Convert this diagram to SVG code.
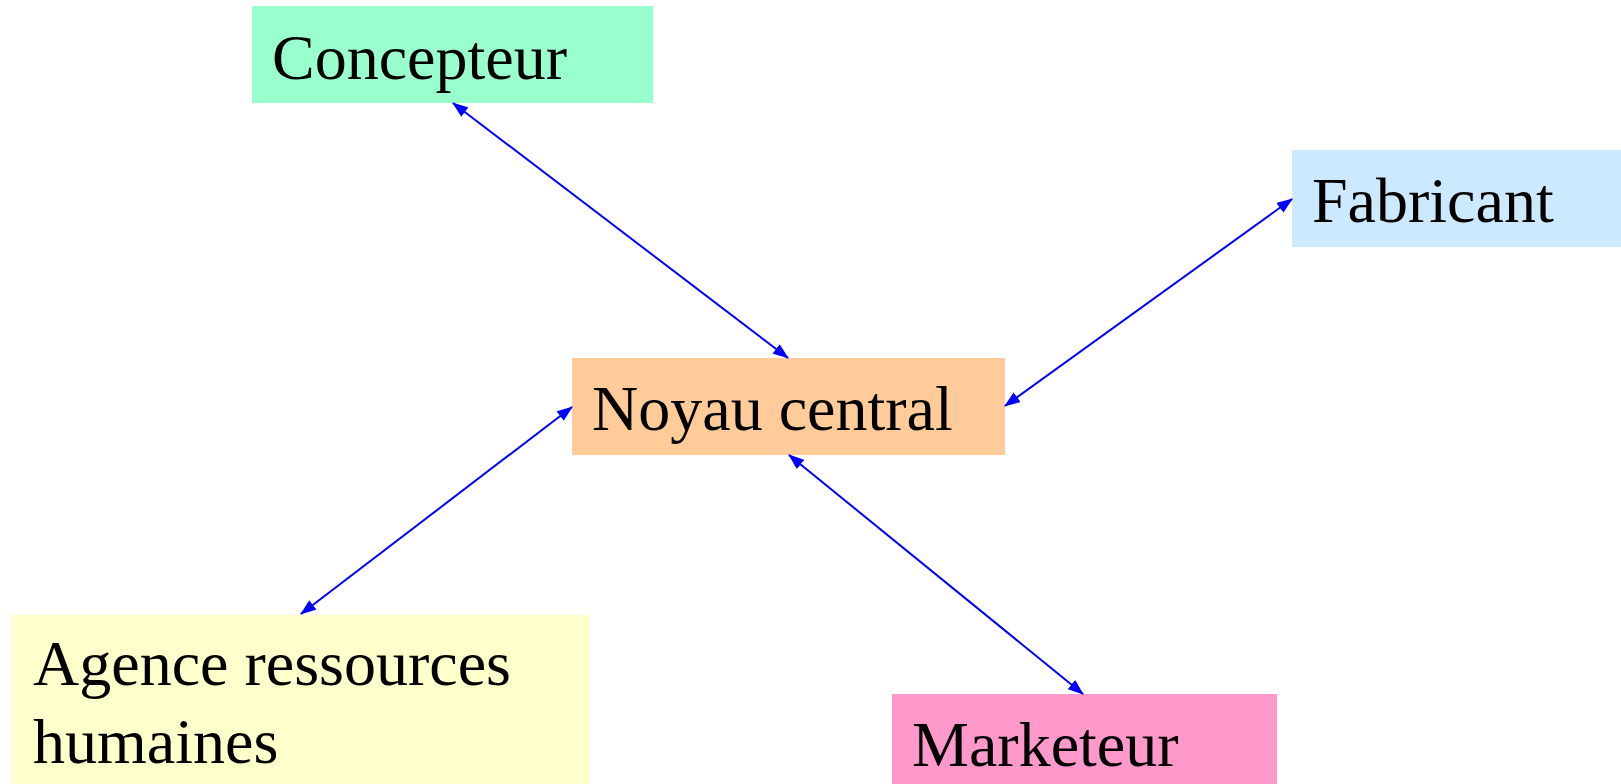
<svg xmlns="http://www.w3.org/2000/svg" width="1621" height="784" viewBox="0 0 1621 784">
  <style>
    .label { font-family: "Liberation Serif", "Times New Roman", serif; font-size: 64px; fill: #000000; }
    .link { stroke: #0000FF; stroke-width: 2; fill: none; marker-start: url(#head); marker-end: url(#head); }
  </style>
  <defs>
    <marker id="head" viewBox="0 0 16 12" refX="15" refY="6" markerWidth="16" markerHeight="12" markerUnits="userSpaceOnUse" orient="auto-start-reverse">
      <path d="M0,0 L16,6 L0,12 z" fill="#0000FF"/>
    </marker>
  </defs>
  <rect width="1621" height="784" fill="#FFFFFF"/>

  <g id="concepteur">
    <rect x="252" y="6" width="401" height="97" fill="#99FFCC"/>
    <text class="label" x="272" y="79">Concepteur</text>
  </g>

  <g id="fabricant">
    <rect x="1292" y="150" width="329" height="97" fill="#CCE9FF"/>
    <text class="label" x="1312" y="222">Fabricant</text>
  </g>

  <g id="noyau">
    <rect x="572" y="358" width="433" height="97" fill="#FFCC99"/>
    <text class="label" x="592" y="430">Noyau central</text>
  </g>

  <g id="agence">
    <rect x="11" y="615" width="578" height="169" fill="#FFFFCC"/>
    <text class="label" x="33" y="685">Agence ressources</text>
    <text class="label" x="33" y="763">humaines</text>
  </g>

  <g id="marketeur">
    <rect x="892" y="694" width="385" height="90" fill="#FF99CC"/>
    <text class="label" x="912" y="766">Marketeur</text>
  </g>

  <g id="connectors">
    <line class="link" x1="453" y1="103" x2="788" y2="358"/>
    <line class="link" x1="1292" y1="199" x2="1005" y2="406"/>
    <line class="link" x1="572" y1="407" x2="301" y2="614"/>
    <line class="link" x1="789" y1="455" x2="1083" y2="694"/>
  </g>
</svg>
